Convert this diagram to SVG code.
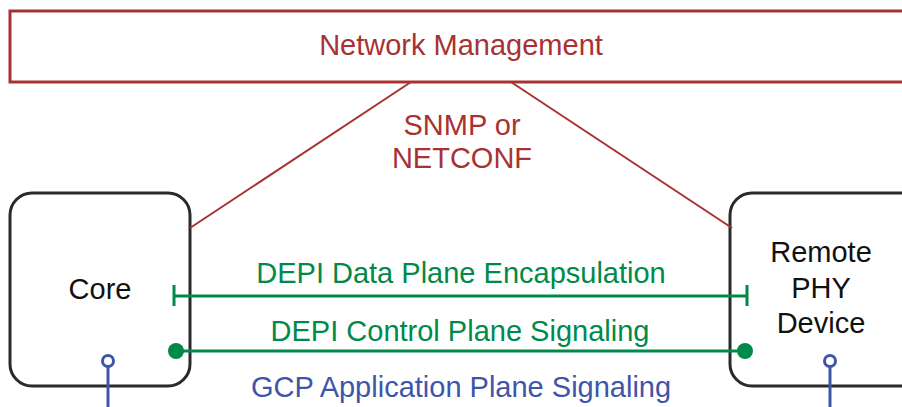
<svg xmlns="http://www.w3.org/2000/svg" width="902" height="407" viewBox="0 0 902 407">
<style>
text{font-family:"Liberation Sans",Arial,sans-serif;font-size:29px;text-anchor:middle}
.red{fill:#a83232}
.grn{fill:#008a4a}
.blu{fill:#3f55aa}
.blk{fill:#111}
.node{fill:#fff;stroke:#2a2a2a;stroke-width:3}
.rl{stroke:#a83232;stroke-width:2;fill:none}
.gl{stroke:#008a4a;stroke-width:3;fill:none}
.bl{stroke:#3f55aa;stroke-width:3;fill:none}
</style>
<rect width="902" height="407" fill="#fff"/>
<g id="netmgmt">
<rect x="10" y="11" width="900" height="71" fill="#fff" stroke="#a83232" stroke-width="3"/>
<text class="red" x="461" y="55">Network Management</text>
</g>
<g id="core">
<rect class="node" x="10" y="193" width="180" height="193" rx="22"/>
<text class="blk" x="100" y="299">Core</text>
</g>
<g id="rpd">
<rect class="node" x="730" y="193" width="200" height="193" rx="22"/>
<text class="blk" x="821" y="262">Remote</text>
<text class="blk" x="821" y="298">PHY</text>
<text class="blk" x="821" y="333">Device</text>
</g>
<g id="connectors">
<line class="rl" x1="190" y1="228" x2="411" y2="82"/>
<line class="rl" x1="511" y1="82" x2="732" y2="228"/>
<text class="red" x="462" y="135">SNMP or</text>
<text class="red" x="462" y="168">NETCONF</text>
<line class="gl" x1="174" y1="296" x2="747" y2="296"/>
<line class="gl" x1="174" y1="285" x2="174" y2="306"/>
<line class="gl" x1="747" y1="285" x2="747" y2="306"/>
<text class="grn" x="461" y="283">DEPI Data Plane Encapsulation</text>
<line class="gl" x1="176" y1="351" x2="745" y2="351"/>
<circle cx="176" cy="351" r="8" fill="#008a4a"/>
<circle cx="745" cy="351" r="8" fill="#008a4a"/>
<text class="grn" x="460" y="341">DEPI Control Plane Signaling</text>
<circle class="bl" cx="108" cy="361" r="5.5" fill="#fff"/>
<line class="bl" x1="108" y1="367" x2="108" y2="407"/>
<circle class="bl" cx="830" cy="361" r="5.5" fill="#fff"/>
<line class="bl" x1="830" y1="367" x2="830" y2="407"/>
<text class="blu" x="461" y="397">GCP Application Plane Signaling</text>
</g>
</svg>
